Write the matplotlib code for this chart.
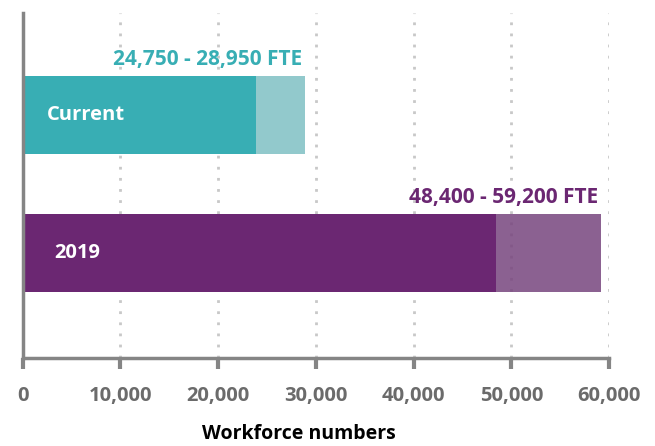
import matplotlib
matplotlib.use("Agg")
import matplotlib.pyplot as plt

plt.rcParams['font.family'] = ['Open Sans', 'DejaVu Sans']

categories = ['Current', '2019']
low_values = [23900, 48400]
high_values = [28900, 59200]
range_labels = ['24,750 - 28,950 FTE', '48,400 - 59,200 FTE']
dark_colors = ['#38AEB4', '#6B2772']
light_colors = ['#7FC0C4', '#77457E']
xticks = [0, 10000, 20000, 30000, 40000, 50000, 60000]
xlabel = 'Workforce numbers'

fig = plt.figure(figsize=(6.55, 4.46), dpi=100)
ax = fig.add_axes([22.5 / 655, 1 - 358 / 446, (609 - 22.5) / 655, (358 - 13) / 446])

ypos = [1, 0]
height = 0.56
for i, cat in enumerate(categories):
    ax.barh(ypos[i], high_values[i] - low_values[i], left=low_values[i],
            height=height, color=light_colors[i], zorder=1, alpha=0.85, linewidth=0)
    ax.barh(ypos[i], low_values[i], height=height, color=dark_colors[i],
            zorder=2, linewidth=0)
    ax.text(high_values[i] - 300, ypos[i] + height / 2 + 0.045, range_labels[i],
            ha='right', va='bottom', fontsize=15, fontweight='bold',
            color=dark_colors[i])
    ax.text(2500 if i == 0 else 3300, ypos[i], cat, ha='left', va='center',
            fontsize=14.5, fontweight='bold', color='white', zorder=3)

ax.set_xlim(0, 60000)
ax.set_ylim(-0.76, 1.74)
ax.set_yticks([])
ax.set_xticks(xticks)
ax.set_xticklabels([f'{v:,}' for v in xticks], fontsize=14.5, fontweight='bold',
                   color='#6b6b6b')
ax.tick_params(axis='x', length=8, width=3, color='#858585', pad=12)

for x in xticks[1:]:
    ax.axvline(x, color='#c8c8c8', linestyle=(0, (1, 3)), linewidth=2, zorder=0)

for s in ['top', 'right']:
    ax.spines[s].set_visible(False)
for s in ['left', 'bottom']:
    ax.spines[s].set_color('#858585')
    ax.spines[s].set_linewidth(2.5)

fig.text(299 / 655, 1 - 434 / 446, xlabel, ha='center', va='center',
         fontsize=14, fontweight='bold', color='black')

fig.savefig('out.png', dpi=100)
